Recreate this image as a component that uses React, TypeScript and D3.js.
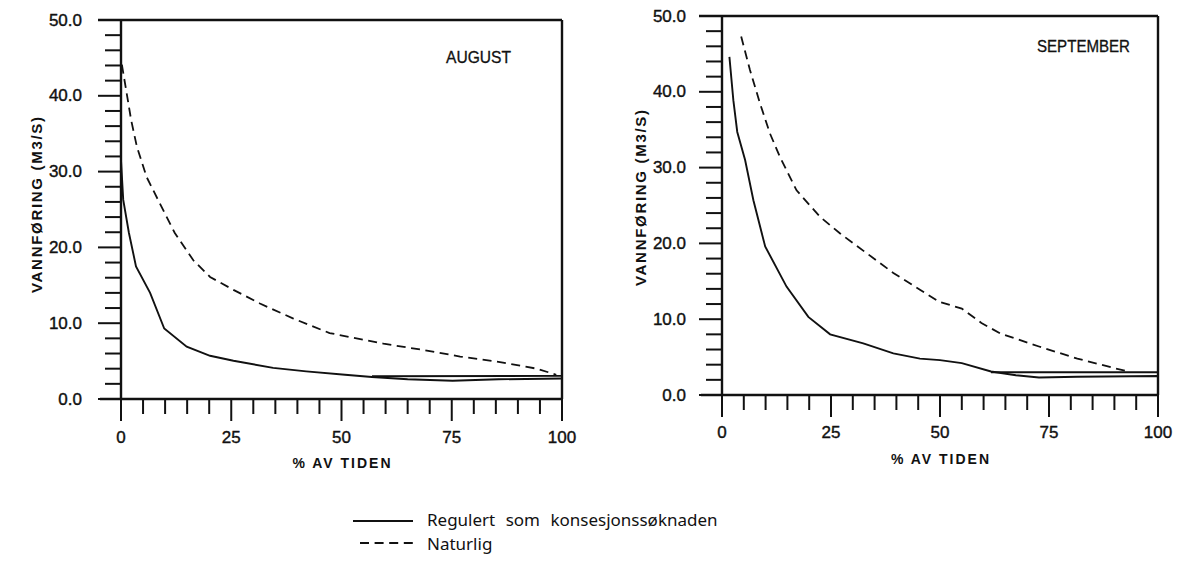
import React from 'react';
import * as d3 from 'd3';

// ---- tick labels ----
const xTickValues = [0, 25, 50, 75, 100];
const xTickLabels = ['0', '25', '50', '75', '100'];
const yTickValues = [0, 10, 20, 30, 40, 50];
const yTickLabels = ['0.0', '10.0', '20.0', '30.0', '40.0', '50.0'];

// ---- August ----
const augRegX = [0, 0.5, 1.8, 3.4, 6.6, 9.8, 14.9, 20.2, 25.5, 34.5, 42, 50.8, 56.9, 65, 75.2, 85.6, 100];
const augRegY = [31.5, 26.3, 21.9, 17.5, 14, 9.3, 6.9, 5.7, 5.05, 4.1, 3.65, 3.2, 2.9, 2.6, 2.4, 2.6, 2.7];
const augRegUpperX = [56.9, 100];
const augRegUpperY = [3.0, 3.05];
const augNatX = [0.2, 1.3, 2.3, 3.6, 5.8, 8.8, 12.2, 16.4, 20.2, 25.5, 31.5, 39.1, 47.3, 59.5, 68.2, 76.9, 85.6, 94.3, 98.7];
const augNatY = [44.1, 40.3, 36.8, 33.3, 29.3, 25.8, 21.9, 18.3, 16.1, 14.4, 12.6, 10.6, 8.7, 7.3, 6.5, 5.6, 4.9, 4.0, 3.2];

// ---- September ----
const sepRegX = [1.7, 2.6, 3.5, 5.3, 7.2, 9.9, 14.8, 19.8, 24.8, 32.4, 39.3, 45.4, 50, 55, 61.7, 67.4, 72.7, 81.5, 100, 100];
const sepRegY = [44.6, 38.9, 34.7, 31, 25.7, 19.6, 14.3, 10.3, 8.0, 6.8, 5.5, 4.8, 4.6, 4.2, 3.1, 2.6, 2.3, 2.4, 2.5, 1.4];
const sepRegUpperX = [61.7, 100];
const sepRegUpperY = [3.0, 3.0];
const sepNatX = [4.4, 6.4, 8.7, 11, 13.3, 17.1, 22.5, 27.1, 33.2, 39.3, 45.4, 49.8, 55, 59.5, 63.9, 72.7, 81.5, 90.3, 92.5];
const sepNatY = [47.3, 42.9, 38.5, 34.5, 31.4, 27, 23.5, 21.3, 18.7, 16.1, 13.9, 12.3, 11.4, 9.5, 8.1, 6.4, 4.8, 3.5, 3.2];

const months = ['AUGUST', 'SEPTEMBER'];
const yTitle = 'VANNFØRING (M3/S)';
const xTitle = '% AV TIDEN';
const legendLabels = ['Regulert som konsesjonssøknaden', 'Naturlig'];

const zip = (xs: number[], ys: number[]) => xs.map((x, i) => [x, ys[i]] as [number, number]);

const panels = [
  {
    month: months[0], x0: 121, x1: 562, yTop: 20, yBottom: 399, labelRight: 82, titleX: 36, titleY: 205,
    monthX: 446, monthY: 57, monthW: 65, xLabelY: 437, xTitleY: 463,
    reg: zip(augRegX, augRegY), regUpper: zip(augRegUpperX, augRegUpperY), nat: zip(augNatX, augNatY),
  },
  {
    month: months[1], x0: 722, x1: 1158, yTop: 16, yBottom: 395, labelRight: 686, titleX: 640, titleY: 198,
    monthX: 1037, monthY: 46, monthW: 93, xLabelY: 432, xTitleY: 459,
    reg: zip(sepRegX, sepRegY), regUpper: zip(sepRegUpperX, sepRegUpperY), nat: zip(sepNatX, sepNatY),
  },
];

const FONT = '"Liberation Sans", Arial, sans-serif';
const INK = '#111';

function Panel({ p }: { p: typeof panels[number] }) {
  const x = d3.scaleLinear().domain([0, 100]).range([p.x0, p.x1]);
  const y = d3.scaleLinear().domain([0, 50]).range([p.yBottom, p.yTop]);
  const line = d3.line<[number, number]>().x(d => x(d[0])).y(d => y(d[1]));
  const xMinor = d3.range(0, 101, 5);
  const yMinor = d3.range(0, 51, 2);
  return (
    <g>
      {/* frame */}
      <line x1={x(0) - 21} x2={x(100)} y1={y(0)} y2={y(0)} stroke={INK} strokeWidth={2.4} />
      <line x1={x(0)} x2={x(0)} y1={y(0)} y2={y(50)} stroke={INK} strokeWidth={2.4} />
      <line x1={x(0) - 23} x2={x(100)} y1={y(50)} y2={y(50)} stroke={INK} strokeWidth={2.4} />
      <line x1={x(100)} x2={x(100)} y1={y(0)} y2={y(50)} stroke={INK} strokeWidth={2.4} />
      {/* x ticks */}
      {xMinor.map(v => (
        <line key={'xt' + v} x1={x(v)} x2={x(v)} y1={y(0)} y2={y(0) + (v % 25 === 0 ? 22 : 15)} stroke={INK} strokeWidth={2} />
      ))}
      {/* y ticks */}
      {yMinor.map(v => (
        <line key={'yt' + v} x1={x(0)} x2={x(0) - (v % 10 === 0 ? 23 : 16)} y1={y(v)} y2={y(v)} stroke={INK} strokeWidth={2} />
      ))}
      {xTickValues.map((v, i) => (
        <text key={'xl' + v} x={x(v)} y={p.xLabelY} textAnchor="middle" dominantBaseline="central"
          fontFamily={FONT} fontSize={17} fill={INK} stroke={INK} strokeWidth={0.4}>{xTickLabels[i]}</text>
      ))}
      {yTickValues.map((v, i) => (
        <text key={'yl' + v} x={p.labelRight} y={y(v)} textAnchor="end" dominantBaseline="central"
          fontFamily={FONT} fontSize={17} fill={INK} stroke={INK} strokeWidth={0.4}>{yTickLabels[i]}</text>
      ))}
      <text transform={`translate(${p.titleX},${p.titleY}) rotate(-90)`} textAnchor="middle" dominantBaseline="central"
        fontFamily={FONT} fontSize={15} fontWeight="bold" fill={INK} textLength={176} lengthAdjust="spacing">{yTitle}</text>
      <text x={x(50)} y={p.xTitleY} textAnchor="middle" dominantBaseline="central"
        fontFamily={FONT} fontSize={14} fontWeight="bold" fill={INK} textLength={98} lengthAdjust="spacing">{xTitle}</text>
      <text x={p.monthX} y={p.monthY} dominantBaseline="central"
        fontFamily={FONT} fontSize={16} fill={INK} stroke={INK} strokeWidth={0.3} textLength={p.monthW} lengthAdjust="spacingAndGlyphs">{p.month}</text>
      {/* curves */}
      <path d={line(p.nat) || ''} fill="none" stroke={INK} strokeWidth={1.8} strokeDasharray="9,5.5" />
      <path d={line(p.reg) || ''} fill="none" stroke={INK} strokeWidth={1.9} />
      <path d={line(p.regUpper) || ''} fill="none" stroke={INK} strokeWidth={1.9} />
    </g>
  );
}

export default function App() {
  return (
    <svg width={1180} height={561} style={{ position: 'absolute', left: 0, top: 0, background: '#fff' }}>
      <rect width={1180} height={561} fill="#fff" />
      {panels.map(p => <Panel key={p.month} p={p} />)}
      {/* legend */}
      <line x1={353} x2={413} y1={521} y2={521} stroke={INK} strokeWidth={1.8} />
      <line x1={360} x2={413} y1={543} y2={543} stroke={INK} strokeWidth={1.8} strokeDasharray="9,5.6" />
      <text x={427} y={519} dominantBaseline="central" fontFamily='"Noto Sans", sans-serif' fontSize={17}
        fill={INK} wordSpacing={6}>{legendLabels[0]}</text>
      <text x={427} y={543} dominantBaseline="central" fontFamily='"Noto Sans", sans-serif' fontSize={17}
        fill={INK}>{legendLabels[1]}</text>
    </svg>
  );
}
